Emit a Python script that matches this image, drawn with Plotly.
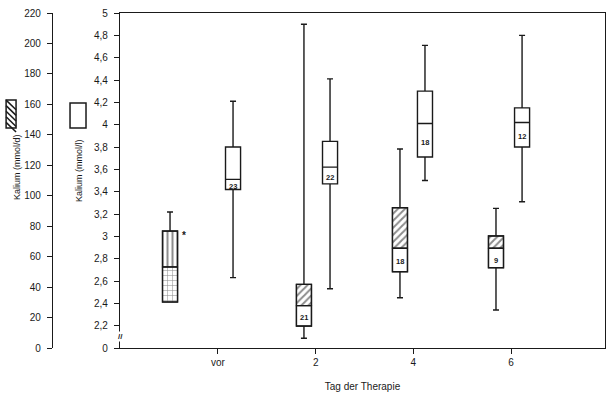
import plotly.graph_objects as go

# ---- data ----
days = ["vor", "2", "4", "6"]
day_idx = [0, 1, 2, 3]

# Kalium (mmol/d) - hatched boxes, left axis
d_upper = [89.3, 212.6, 130.7, 91.7]
d_q3 = [76.8, 41.8, 92.1, 73.6]
d_med = [53.2, 27.8, 65.5, 65.5]
d_q1 = [30.2, 14.4, 50.1, 52.7]
d_lower = [30.2, 6.4, 33.0, 25.0]
d_n = ["", "21", "18", "9"]

# Kalium (mmol/l) - white boxes, right axis
l_upper = [4.21, 4.41, 4.71, 4.80]
l_q3 = [3.80, 3.85, 4.30, 4.15]
l_med = [3.51, 3.62, 4.01, 4.02]
l_q1 = [3.42, 3.47, 3.71, 3.80]
l_lower = [2.63, 2.53, 3.50, 3.31]
l_n = ["23", "22", "18", "12"]

l_tickvals = [2.0, 2.2, 2.4, 2.6, 2.8, 3.0, 3.2, 3.4, 3.6, 3.8, 4.0, 4.2, 4.4, 4.6, 4.8, 5.0]
l_ticktext = ["0", "2,2", "2,4", "2,6", "2,8", "3", "3,2", "3,4", "3,6", "3,8", "4", "4,2", "4,4", "4,6", "4,8", "5"]
d_tickvals = list(range(0, 221, 20))

# ---- layout constants ----
off_d = [-0.491, -0.12, -0.137, -0.154]
off_l = [0.154, 0.147, 0.119, 0.113]
bw = 0.154
ink = "#1a1a1a"
font = "Liberation Sans, Arial, sans-serif"

xd = [i + o for i, o in zip(day_idx, off_d)]
xl = [i + o for i, o in zip(day_idx, off_l)]

fig = go.Figure()

# hatched patterns (mmol/d)
fig.add_trace(go.Bar(
    x=xd, y=[a - b for a, b in zip(d_q3, d_med)], base=d_med, width=bw,
    yaxis="y2", showlegend=False, hoverinfo="skip",
    marker=dict(color="white", line=dict(color=ink, width=1.2),
                pattern=dict(shape=["|", "/", "/", "/"], fgcolor=ink, bgcolor="white",
                             size=5, solidity=0.4))))
fig.add_trace(go.Bar(
    x=xd, y=[a - b for a, b in zip(d_med, d_q1)], base=d_q1, width=bw,
    yaxis="y2", showlegend=False, hoverinfo="skip",
    marker=dict(color="white", line=dict(color=ink, width=1.2),
                pattern=dict(shape=["+", "", "", ""], fgcolor=ink, bgcolor="white",
                             size=5, solidity=0.2))))

fig.add_trace(go.Box(
    x=xd, q1=d_q1, median=d_med, q3=d_q3, lowerfence=d_lower, upperfence=d_upper,
    yaxis="y2", width=bw, whiskerwidth=0.4, boxpoints=False, showlegend=False,
    fillcolor="rgba(0,0,0,0)", line=dict(color=ink, width=1.4)))

fig.add_trace(go.Box(
    x=xl, q1=l_q1, median=l_med, q3=l_q3, lowerfence=l_lower, upperfence=l_upper,
    yaxis="y", width=bw, whiskerwidth=0.4, boxpoints=False, showlegend=False,
    fillcolor="white", line=dict(color=ink, width=1.4)))

ann = []
for x, q1, m, t in zip(xl, l_q1, l_med, l_n):
    ann.append(dict(x=x, y=(q1 + m) / 2, xref="x", yref="y", text="<b>%s</b>" % t,
                    showarrow=False, font=dict(size=7.5, color=ink, family=font), yshift=-2))
for x, q1, m, t in zip(xd, d_q1, d_med, d_n):
    if t:
        ann.append(dict(x=x, y=(q1 + m) / 2, xref="x", yref="y2", text="<b>%s</b>" % t,
                        showarrow=False, font=dict(size=7.5, color=ink, family=font),
                        bgcolor="white", yshift=-2))
ann.append(dict(x=xd[0] + 0.145, y=d_q3[0], xref="x", yref="y2", text="<b>*</b>",
                showarrow=False, font=dict(size=10, color=ink, family=font), yshift=-4))
# axis break
ann.append(dict(x=-1.003, y=2.1, xref="x", yref="y", text="<b>//</b>", showarrow=False,
                font=dict(size=8, color=ink, family=font), bgcolor="white", borderpad=0))
# legend texts
ann.append(dict(x=-0.0633, y=0.54, xref="paper", yref="paper", text="Kalium (mmol/d)",
                textangle=-90, showarrow=False, xanchor="center", yanchor="middle",
                font=dict(size=9, color=ink, family=font)))
ann.append(dict(x=0.0488, y=0.531, xref="paper", yref="paper", text="Kalium (mmol/l)",
                textangle=-90, showarrow=False, xanchor="center", yanchor="middle",
                font=dict(size=9, color=ink, family=font)))

shapes = []
# legend hatched symbol
x0, x1, y0, y1 = -0.083, -0.065, 0.657, 0.740
shapes.append(dict(type="rect", xref="paper", yref="paper", x0=x0, x1=x1, y0=y0, y1=y1,
                   line=dict(color=ink, width=1.5)))
n = 5
for k in range(n):
    t0 = k / n
    shapes.append(dict(type="line", xref="paper", yref="paper",
                       x0=x0, y0=y1 - (y1 - y0) * t0, x1=x1, y1=y1 - (y1 - y0) * (t0 + 0.35),
                       line=dict(color=ink, width=1.5)))
# legend white symbol
shapes.append(dict(type="rect", xref="paper", yref="paper", x0=0.0326, x1=0.0615,
                   y0=0.657, y1=0.731, line=dict(color=ink, width=1.5)))

fig.update_layout(
    width=607, height=396, margin=dict(l=52, r=2, t=13, b=48),
    paper_bgcolor="white", plot_bgcolor="white", barmode="overlay",
    font=dict(family=font, size=10, color=ink),
    annotations=ann, shapes=shapes,
    xaxis=dict(domain=[0.123, 1], range=[-1.003, 3.962], tickvals=day_idx, ticktext=days,
               showline=True, mirror=True, linecolor=ink, linewidth=1.2, ticks="outside",
               ticklen=5, tickcolor=ink, showgrid=False, zeroline=False,
               title=dict(text="Tag der Therapie", font=dict(size=10), standoff=15)),
    yaxis=dict(range=[2.0, 5.0], tickvals=l_tickvals, ticktext=l_ticktext,
               showline=True, mirror=True, linecolor=ink, linewidth=1.2, ticks="outside",
               ticklen=5, tickcolor=ink, showgrid=False, zeroline=False,
               ticklabelstandoff=4),
    yaxis2=dict(range=[0, 220], tickvals=d_tickvals, overlaying="y", anchor="free",
                position=0, side="left", showline=True, linecolor=ink, linewidth=1.2,
                ticks="outside", ticklen=5, tickcolor=ink, showgrid=False, zeroline=False,
                ticklabelstandoff=4),
)

fig.write_html("out.html")
